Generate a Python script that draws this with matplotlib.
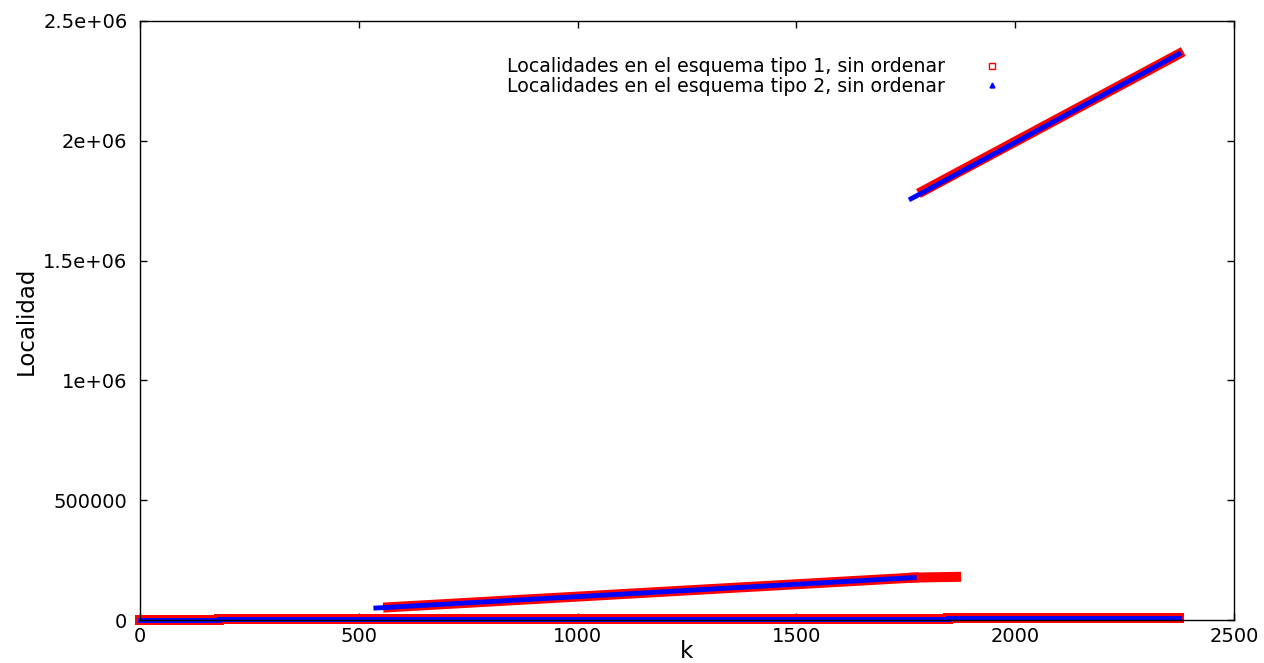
import matplotlib
matplotlib.use("Agg")
import matplotlib.pyplot as plt

# segmentos: (k inicial, k final, localidad inicial, localidad final)
tipo1_k0 = [0, 180, 1846, 567, 1769, 1789]
tipo1_k1 = [180, 1846, 2374, 1769, 1865, 2374]
tipo1_y0 = [0, 4000, 8000, 53000, 177000, 1790000]
tipo1_y1 = [0, 4000, 8000, 177000, 180000, 2362500]

tipo2_k0 = [0, 180, 1846, 539, 1762]
tipo2_k1 = [180, 1846, 2374, 1769, 2374]
tipo2_y0 = [0, 4000, 8000, 50000, 1758000]
tipo2_y1 = [0, 4000, 8000, 177000, 2362500]

xticks = [0, 500, 1000, 1500, 2000, 2500]
yticks = [0, 500000, 1000000, 1500000, 2000000, 2500000]
ytick_labels = ["0", "500000", "1e+06", "1.5e+06", "2e+06", "2.5e+06"]

label1 = "Localidades en el esquema tipo 1, sin ordenar"
label2 = "Localidades en el esquema tipo 2, sin ordenar"

fig = plt.figure(figsize=(12.64, 6.63), dpi=100)
ax = fig.add_axes([140 / 1264, 1 - 620 / 663, 1094 / 1264, 599 / 663])

for a, b, c, d in zip(tipo1_k0, tipo1_k1, tipo1_y0, tipo1_y1):
    ax.plot([a, b], [c, d], color="red", lw=7.2, solid_capstyle="projecting",
            clip_on=False, zorder=2)
for a, b, c, d in zip(tipo2_k0, tipo2_k1, tipo2_y0, tipo2_y1):
    ax.plot([a, b], [c, d], color="blue", lw=3.5, solid_capstyle="projecting",
            clip_on=False, zorder=3)

# entradas de la leyenda con los simbolos de gnuplot
h1, = ax.plot([], [], "s", mfc="none", mec="red", ms=5, mew=1, label=label1)
h2, = ax.plot([], [], "^", color="blue", ms=3.5, label=label2)

ax.set_xlim(0, 2500)
ax.set_ylim(0, 2500000)
ax.set_xticks(xticks)
ax.set_xticklabels([str(t) for t in xticks])
ax.set_yticks(yticks)
ax.set_yticklabels(ytick_labels)
ax.tick_params(direction="in", length=5, width=1, labelsize=14, top=True, right=True)
ax.tick_params(axis="x", pad=5)
ax.tick_params(axis="y", pad=9)
for s in ax.spines.values():
    s.set_zorder(5)
    s.set_linewidth(1)

ax.set_xlabel("k", fontsize=16.5, labelpad=-4)
ax.set_ylabel("Localidad", fontsize=16.5, labelpad=4)

leg = ax.legend(handles=[h1, h2], loc="upper left", bbox_to_anchor=(359 / 1094, 0.952),
                frameon=False, fontsize=13.7, markerfirst=False, labelspacing=0.03,
                handlelength=1.5, handletextpad=1.75, borderaxespad=0)

fig.savefig("out.png", dpi=100)
